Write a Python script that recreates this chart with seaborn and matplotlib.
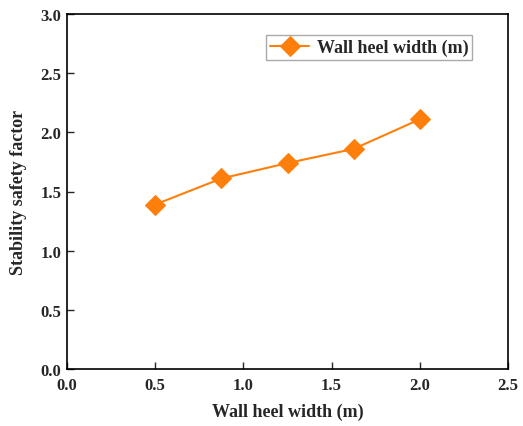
import matplotlib
matplotlib.use("Agg")
import matplotlib.pyplot as plt
import seaborn as sns
import pandas as pd

heel_width = [0.5, 0.875, 1.25, 1.625, 2.0]
safety_factor = [1.39, 1.61, 1.74, 1.86, 2.11]
x_ticks = [0.0, 0.5, 1.0, 1.5, 2.0, 2.5]
y_ticks = [0.0, 0.5, 1.0, 1.5, 2.0, 2.5, 3.0]

sns.set_style("ticks")
plt.rcParams["font.family"] = ["Liberation Serif", "DejaVu Serif"]
plt.rcParams["font.weight"] = "bold"

df = pd.DataFrame({"w": heel_width, "k": safety_factor})

fig = plt.figure(figsize=(5.23, 4.27), dpi=100)
ax = fig.add_axes([67 / 523, 1 - 370 / 427, (508 - 67) / 523, (370 - 15) / 427])

sns.lineplot(data=df, x="w", y="k", ax=ax, color="#FF7F0A", marker="D",
             markersize=10, markeredgecolor="#FF7F0A", linewidth=1.5,
             label="Wall heel width (m)")

ax.set_xlim(0, 2.5)
ax.set_ylim(0, 3.0)
ax.set_xticks(x_ticks)
ax.set_yticks(y_ticks)
ax.set_xticklabels([f"{t:.1f}" for t in x_ticks], fontweight="bold", fontsize=12)
ax.set_yticklabels([f"{t:.1f}" for t in y_ticks], fontweight="bold", fontsize=12)
ax.tick_params(direction="in", length=5, width=1)
ax.tick_params(axis="x", pad=6)
ax.tick_params(axis="y", pad=4)
for s in ax.spines.values():
    s.set_visible(True)
    s.set_linewidth(1.2)
    s.set_color("black")

ax.set_xlabel("Wall heel width (m)", fontsize=13, fontweight="bold", labelpad=7)
ax.set_ylabel("Stability safety factor", fontsize=13, fontweight="bold", labelpad=10)

leg = ax.legend(loc="upper right", bbox_to_anchor=(0.918, 0.94), borderaxespad=0,
                fancybox=False, framealpha=1, edgecolor="#AAAAAA", fontsize=13,
                handlelength=2.2, borderpad=0.2, handletextpad=0.4)
for t in leg.get_texts():
    t.set_fontweight("bold")

fig.savefig("out.png", dpi=100)
